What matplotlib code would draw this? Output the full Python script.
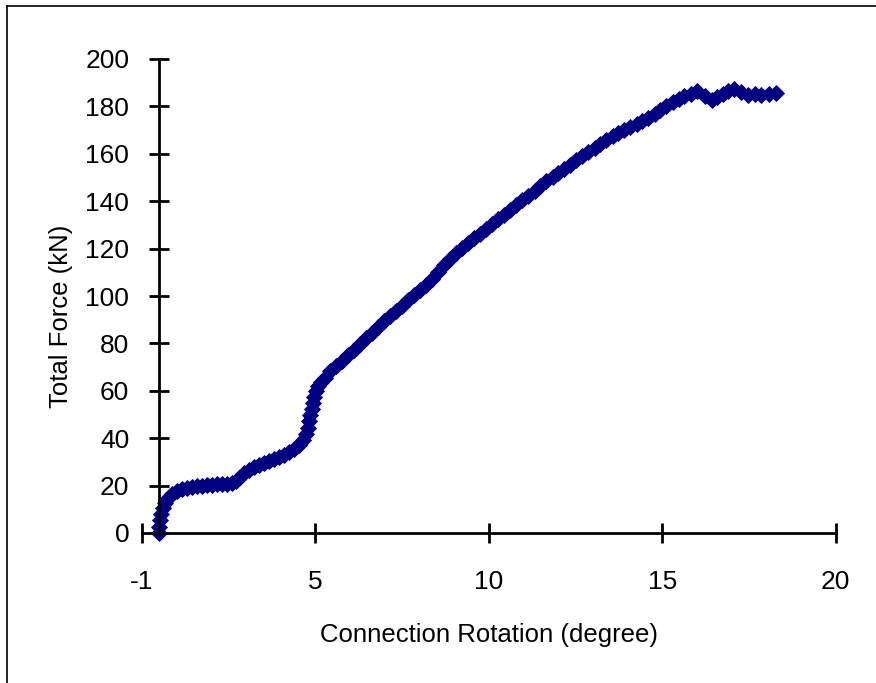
import matplotlib
matplotlib.use("Agg")
import matplotlib.pyplot as plt
from matplotlib.lines import Line2D

plt.rcParams['font.family'] = ['Liberation Sans', 'DejaVu Sans']

# connection rotation (degree)
rotation = [0.00, 0.00, 0.03, 0.06, 0.12, 0.17, 0.26, 0.37, 0.52, 0.66,
            0.81, 0.95, 1.10, 1.24, 1.38, 1.53, 1.67, 1.82, 1.96, 2.11,
            2.22, 2.34, 2.45, 2.60, 2.74, 2.88, 3.03, 3.17, 3.32, 3.46,
            3.61, 3.75, 3.89, 4.04, 4.15, 4.24, 4.30, 4.33, 4.36, 4.41,
            4.44, 4.47, 4.53, 4.59, 4.67, 4.79,
            4.93, 5.11, 5.28, 5.45, 5.62, 5.80, 5.97, 6.14, 6.32, 6.49,
            6.66, 6.84, 7.01, 7.18, 7.36, 7.53, 7.70, 7.87, 8.05, 8.22,
            8.39, 8.57, 8.74, 8.91, 9.09, 9.26, 9.43,
            9.60, 9.78, 9.95, 10.12, 10.30, 10.47, 10.64, 10.82, 10.99, 11.16,
            11.34, 11.51, 11.68, 11.85, 12.03, 12.20, 12.37, 12.55, 12.72, 12.89,
            13.07, 13.24, 13.41, 13.58, 13.76, 13.93, 14.10, 14.28, 14.45, 14.62,
            14.80, 14.97, 15.14, 15.32, 15.49,
            15.72, 15.93, 16.07, 16.24, 16.41, 16.58, 16.76, 16.96, 17.16, 17.36,
            17.57, 17.77]

# total force (kN)
force = [0.0, 2.5, 5.5, 8.0, 10.5, 12.7, 14.8, 16.5, 17.7, 18.6,
         19.0, 19.4, 19.8, 19.8, 20.3, 20.3, 20.7, 20.7, 20.7, 21.1,
         22.0, 23.6, 25.3, 26.6, 27.8, 28.7, 29.5, 30.4, 31.2, 32.0,
         32.9, 34.2, 35.4, 37.1, 39.2, 41.8, 44.3, 47.3, 49.8, 52.3,
         54.9, 57.4, 59.9, 62.0, 63.7, 65.4,
         68.4, 70.5, 72.6, 75.1, 77.2, 79.7, 82.3, 84.4, 86.9, 89.5,
         91.6, 93.7, 95.8, 98.3, 100.4, 102.5, 104.6, 107.2, 110.1, 113.1,
         115.6, 118.1, 120.3, 122.4, 124.5, 126.2, 128.2,
         130.4, 132.5, 134.2, 136.3, 138.4, 140.5, 142.2, 144.3, 146.4, 148.5,
         150.2, 151.9, 153.6, 155.3, 157.4, 159.1, 160.8, 162.4, 164.1, 165.8,
         167.5, 168.8, 170.0, 171.3, 172.6, 173.8, 175.1, 176.8, 178.5, 180.2,
         181.9, 183.1, 184.4, 185.2, 186.5,
         184.4, 182.7, 184.0, 185.2, 186.5, 187.3, 186.1, 184.8, 185.2, 184.8,
         185.2, 185.7]

# x ticks sit at -0.5, 4.5, ... and show rounded values
x_ticks = [-0.5, 4.5, 9.5, 14.5, 19.5]
x_tick_labels = ['-1', '5', '10', '15', '20']
y_ticks = [0, 20, 40, 60, 80, 100, 120, 140, 160, 180, 200]

fig = plt.figure(figsize=(8.76, 6.83), dpi=100)
ax = fig.add_axes([141.7 / 876, 150 / 683, 694 / 876, 474 / 683])

ax.plot(rotation, force, linestyle='none', marker='D', markersize=8,
        color='#000080', markeredgecolor='#000080', markeredgewidth=0.6, clip_on=False)

ax.set_xlim(-0.5, 19.5)
ax.set_ylim(0, 200)
ax.set_xticks(x_ticks)
ax.set_xticklabels(x_tick_labels)
ax.set_yticks(y_ticks)

for s in ['top', 'right']:
    ax.spines[s].set_visible(False)
ax.spines['left'].set_position(('data', 0))
ax.spines['left'].set_linewidth(2)
ax.spines['bottom'].set_linewidth(2)
ax.tick_params(axis='both', direction='inout', length=15, width=2, labelsize=19)
ax.tick_params(axis='y', pad=14)
ax.tick_params(axis='x', pad=19)

ax.set_xlabel('Connection Rotation (degree)', fontsize=18.5)
ax.xaxis.set_label_coords(0.5, (533 - 635) / 474)
ax.xaxis.label.set_va('center')
ax.set_ylabel('Total Force (kN)', fontsize=18.5)
ax.yaxis.set_label_coords((61 - 141.7) / 694, (533 - 316) / 474)
ax.yaxis.label.set_va('center')

# outer chart frame (only top and left edges are in view)
fig.add_artist(Line2D([7 / 876, 7 / 876], [0, 1 - 6 / 683], color='black', lw=1.2))
fig.add_artist(Line2D([7 / 876, 1], [1 - 6 / 683, 1 - 6 / 683], color='black', lw=1.2))

fig.savefig('out.png', dpi=100)
